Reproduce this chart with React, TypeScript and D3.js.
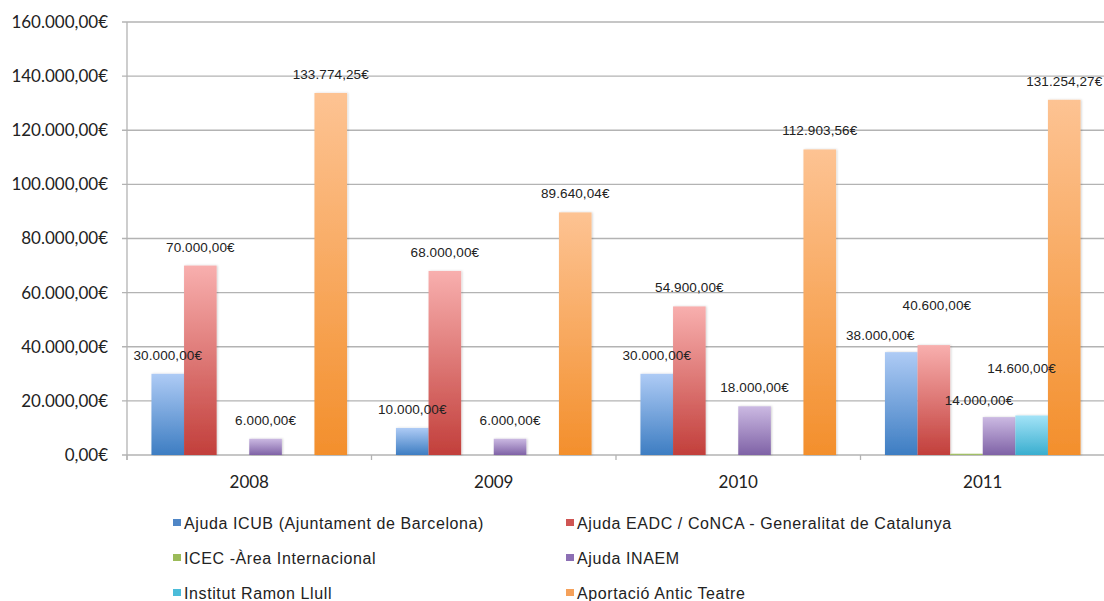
import React from "react";
import * as d3 from "d3";

const years = ["2008", "2009", "2010", "2011"];
const seriesNames = [
  "Ajuda ICUB (Ajuntament de Barcelona)",
  "Ajuda EADC / CoNCA - Generalitat de Catalunya",
  "ICEC -Àrea Internacional",
  "Ajuda INAEM",
  "Institut Ramon Llull",
  "Aportació Antic Teatre",
];
const icub = [30000, 10000, 30000, 38000];
const eadc = [70000, 68000, 54900, 40600];
const icec = [0, 0, 0, 500];
const inaem = [6000, 6000, 18000, 14000];
const ramonLlull = [0, 0, 0, 14600];
const anticTeatre = [133774.25, 89640.04, 112903.56, 131254.27];
const yTicks = [0, 20000, 40000, 60000, 80000, 100000, 120000, 140000, 160000];

const seriesValues = [icub, eadc, icec, inaem, ramonLlull, anticTeatre];
const showLabel = [true, true, false, true, true, true];

const gradients = [
  ["#aecbf5", "#3d7dc2"],
  ["#f8afae", "#c23f3b"],
  ["#c6dd9a", "#8cae48"],
  ["#cbb9e2", "#7f62a6"],
  ["#a3e3f7", "#3aaecf"],
  ["#fdc393", "#f38f2c"],
];
const legendColors = ["#4f86c6", "#cf5553", "#9bbb59", "#8c6fb4", "#4bbcd9", "#f5a15a"];

// label nudges (layout only): key = seriesIndex-yearIndex
const labelNudge: Record<string, [number, number]> = {
  "0-3": [-21, 2],
  "1-3": [3, -21],
  "3-3": [-20, 2],
  "4-3": [-10, -28],
};

const locale = d3.formatLocale({
  decimal: ",",
  thousands: ".",
  grouping: [3],
  currency: ["", "€"],
});
const fmt = locale.format("$,.2f");

export default function App() {
  const W = 1104;
  const H = 601;
  const x0 = 127;
  const x1 = 1105;
  const yTop = 22;
  const yBottom = 455;

  const x = d3.scaleBand<string>().domain(years).range([x0, x1]).paddingInner(0.2).paddingOuter(0.1);
  const xs = d3
    .scaleBand<number>()
    .domain(d3.range(seriesNames.length))
    .range([0, x.bandwidth()]);
  const y = d3.scaleLinear().domain([0, 160000]).range([yBottom, yTop]);
  const step = x.step();

  const axisFont = "Lato, 'Open Sans', sans-serif";
  const labelFont = "'Liberation Sans', Arial, sans-serif";

  return (
    <svg width={W} height={H} style={{ position: "absolute", left: 0, top: 0, background: "#fff" }}>
      <defs>
        {gradients.map((g, i) => (
          <linearGradient key={i} id={`g${i}`} x1="0" y1="0" x2="0" y2="1">
            <stop offset="0%" stopColor={g[0]} />
            <stop offset="100%" stopColor={g[1]} />
          </linearGradient>
        ))}
        <filter id="shadow" x="-20%" y="-5%" width="140%" height="110%">
          <feDropShadow dx="1" dy="0" stdDeviation="1" floodColor="#000" floodOpacity="0.18" />
        </filter>
      </defs>

      {/* gridlines */}
      {yTicks.map((t) => (
        <g key={t}>
          <line x1={x0 - 5} x2={W} y1={y(t)} y2={y(t)} stroke="#b3b3b3" strokeWidth={1.3} />
          <text
            x={108}
            y={y(t)}
            dy="0.35em"
            textAnchor="end"
            fontFamily={axisFont}
            fontSize={17}
            fill="#222"
          >
            {fmt(t)}
          </text>
        </g>
      ))}
      {/* y axis line */}
      <line x1={x0} x2={x0} y1={yTop} y2={yBottom + 5} stroke="#b3b3b3" strokeWidth={1.3} />
      {/* x ticks */}
      {d3.range(years.length + 1).map((k) => (
        <line
          key={k}
          x1={x0 + k * step}
          x2={x0 + k * step}
          y1={yBottom}
          y2={yBottom + 5}
          stroke="#b3b3b3"
          strokeWidth={1.3}
        />
      ))}

      {/* bars */}
      {years.map((yr, yi) => (
        <g key={yr}>
          {seriesValues.map((vals, si) => {
            const v = vals[yi];
            if (v <= 0) return null;
            const bx = (x(yr) as number) + (xs(si) as number);
            const by = y(v);
            return (
              <rect
                key={si}
                x={bx}
                y={by}
                width={xs.bandwidth()}
                height={yBottom - by}
                fill={`url(#g${si})`}
                filter="url(#shadow)"
              />
            );
          })}
        </g>
      ))}

      {/* value labels */}
      {years.map((yr, yi) => (
        <g key={yr}>
          {seriesValues.map((vals, si) => {
            const v = vals[yi];
            if (v <= 0 || !showLabel[si]) return null;
            const nudge = labelNudge[`${si}-${yi}`] || [0, 0];
            const cx = (x(yr) as number) + (xs(si) as number) + xs.bandwidth() / 2 + nudge[0];
            const cy = y(v) - 14 + nudge[1];
            return (
              <text
                key={si}
                x={cx}
                y={cy}
                textAnchor="middle"
                fontFamily={labelFont}
                fontSize={13.5}
                letterSpacing={0.1}
                fill="#222"
              >
                {fmt(v)}
              </text>
            );
          })}
        </g>
      ))}

      {/* x labels */}
      {years.map((yr) => (
        <text
          key={yr}
          x={(x0 + years.indexOf(yr) * step) + step / 2}
          y={488}
          textAnchor="middle"
          fontFamily={axisFont}
          fontSize={17}
          fill="#222"
        >
          {yr}
        </text>
      ))}

      {/* legend */}
      {seriesNames.map((name, i) => {
        const col = i % 2;
        const row = Math.floor(i / 2);
        const lx = col === 0 ? 173 : 566;
        const ly = 523 + row * 35;
        return (
          <g key={name}>
            <rect x={lx} y={ly - 4} width={8} height={7} fill={legendColors[i]} />
            <text
              x={lx + 11}
              y={ly}
              dy="0.35em"
              fontFamily={labelFont}
              fontSize={16}
              letterSpacing={0.6}
              fill="#222"
            >
              {name}
            </text>
          </g>
        );
      })}
    </svg>
  );
}
